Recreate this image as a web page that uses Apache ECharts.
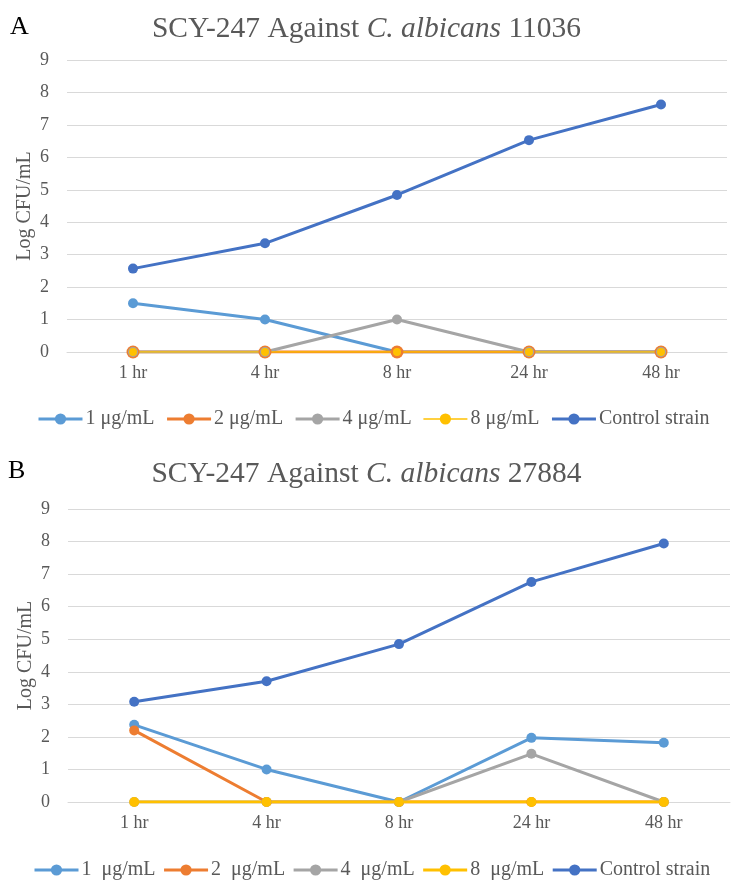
<!DOCTYPE html>
<html>
<head>
<meta charset="utf-8">
<script src="https://cdn.jsdelivr.net/npm/echarts@6/dist/echarts.min.js"></script>
<style>
html,body{margin:0;padding:0;background:#fff;}
#c{width:733px;height:880px;}
</style>
</head>
<body>
<div id="c"></div>
<script>
var categories = ['1 hr', '4 hr', '8 hr', '24 hr', '48 hr'];
var yTicks = [0, 1, 2, 3, 4, 5, 6, 7, 8, 9];

// Panel A: SCY-247 against C. albicans 11036
var namesA = ['1 μg/mL', '2 μg/mL', '4 μg/mL', '8 μg/mL', 'Control strain'];
var a1 = [1.5, 1.0, 0, 0, 0];
var a2 = [0, 0, 0, 0, 0];
var a4 = [0, 0, 1.0, 0, 0];
var a8 = [0, 0, 0, 0, 0];
var aCtrl = [2.57, 3.35, 4.84, 6.53, 7.63];

// Panel B: SCY-247 against C. albicans 27884
var namesB = ['1  μg/mL', '2  μg/mL', '4  μg/mL', '8  μg/mL', 'Control strain '];
var b1 = [2.37, 1.0, 0, 1.97, 1.82];
var b2 = [2.2, 0, 0, 0, 0];
var b4 = [0, 0, 0, 1.48, 0];
var b8 = [0, 0, 0, 0, 0];
var bCtrl = [3.08, 3.71, 4.85, 6.76, 7.94];

var colors = ['#5B9BD5', '#ED7D31', '#A5A5A5', '#FFC000', '#4472C4'];
var FONT = '"Liberation Serif", "Times New Roman", serif';
var GREY = '#595959';

function mkSeries(name, data, color, idx, lw, sym) {
  return {
    type: 'line', name: name, data: data,
    xAxisIndex: idx, yAxisIndex: idx,
    symbol: 'circle', symbolSize: sym, showSymbol: true,
    lineStyle: {color: color, width: lw},
    itemStyle: {color: color, borderWidth: 0},
    emphasis: {disabled: true},
    z: 2
  };
}

function xAx(idx) {
  return {
    type: 'category', gridIndex: idx, data: categories, boundaryGap: true,
    axisLine: {show: true, lineStyle: {color: '#D9D9D9', width: 1}},
    axisTick: {show: false},
    axisLabel: {color: GREY, fontFamily: FONT, fontSize: 18, margin: 12}
  };
}
function yAx(idx) {
  return {
    type: 'value', gridIndex: idx, min: yTicks[0], max: yTicks[yTicks.length - 1], interval: 1,
    name: 'Log CFU/mL', nameLocation: 'middle', nameGap: 32, nameRotate: 90,
    nameMoveOverlap: false,
    nameTextStyle: {color: GREY, fontFamily: FONT, fontSize: 20},
    axisLine: {show: false}, axisTick: {show: false},
    splitLine: {lineStyle: {color: '#D9D9D9', width: 1}},
    axisLabel: {color: GREY, fontFamily: FONT, fontSize: 18, margin: 18}
  };
}

function titleRich(txt, strain, top) {
  return {
    text: '{n|' + txt + '}{i|C. albicans}{n| ' + strain + '}',
    left: 'center', top: top,
    textStyle: {
      rich: {
        n: {fontFamily: FONT, fontSize: 29.5, color: GREY, fontWeight: 'normal'},
        i: {fontFamily: FONT, fontSize: 29.5, color: GREY, fontStyle: 'italic', fontWeight: 'normal'}
      }
    }
  };
}

function legendData(names, thinIdx) {
  return names.map(function (n, i) {
    var d = {name: n};
    if (i === thinIdx) { d.lineStyle = {width: 1.5}; }
    return d;
  });
}

var chart = echarts.init(document.getElementById('c'), null, {renderer: 'canvas'});
chart.setOption({
  animation: false,
  backgroundColor: '#ffffff',
  title: [
    {text: 'A', left: 5, top: 9, textStyle: {fontFamily: FONT, fontSize: 26, fontWeight: 'normal', color: '#000'}},
    titleRich('SCY-247 Against ', '11036', 9),
    {text: 'B', left: 3, top: 453, textStyle: {fontFamily: FONT, fontSize: 26, fontWeight: 'normal', color: '#000'}},
    titleRich('SCY-247 Against ', '27884', 454)
  ],
  grid: [
    {left: 67, top: 60, width: 660, height: 292},
    {left: 68, top: 509, width: 662, height: 293}
  ],
  legend: [
    {data: legendData(namesA, 3), left: 32, top: 404, width: 700, itemWidth: 44, itemHeight: 14, itemGap: 11,
     lineStyle: {width: 3},
     textStyle: {fontFamily: FONT, fontSize: 20, color: GREY, padding: [0, 0, 0, -2]}},
    {data: legendData(namesB, -1), left: 28, top: 855, width: 705, itemWidth: 44, itemHeight: 14, itemGap: 7,
     lineStyle: {width: 3},
     textStyle: {fontFamily: FONT, fontSize: 20, color: GREY, padding: [0, 0, 0, -2]}}
  ],
  xAxis: [xAx(0), xAx(1)],
  yAxis: [yAx(0), yAx(1)],
  series: [
    mkSeries(namesA[0], a1, colors[0], 0, 3, 10),
    mkSeries(namesA[1], a2, colors[1], 0, 3, 13),
    mkSeries(namesA[2], a4, colors[2], 0, 3, 10),
    mkSeries(namesA[3], a8, colors[3], 0, 1.5, 8),
    mkSeries(namesA[4], aCtrl, colors[4], 0, 3, 10),
    mkSeries(namesB[0], b1, colors[0], 1, 3, 10),
    mkSeries(namesB[1], b2, colors[1], 1, 3, 10),
    mkSeries(namesB[2], b4, colors[2], 1, 3, 10),
    mkSeries(namesB[3], b8, colors[3], 1, 3, 10),
    mkSeries(namesB[4], bCtrl, colors[4], 1, 3, 10)
  ]
});
</script>
</body>
</html>
